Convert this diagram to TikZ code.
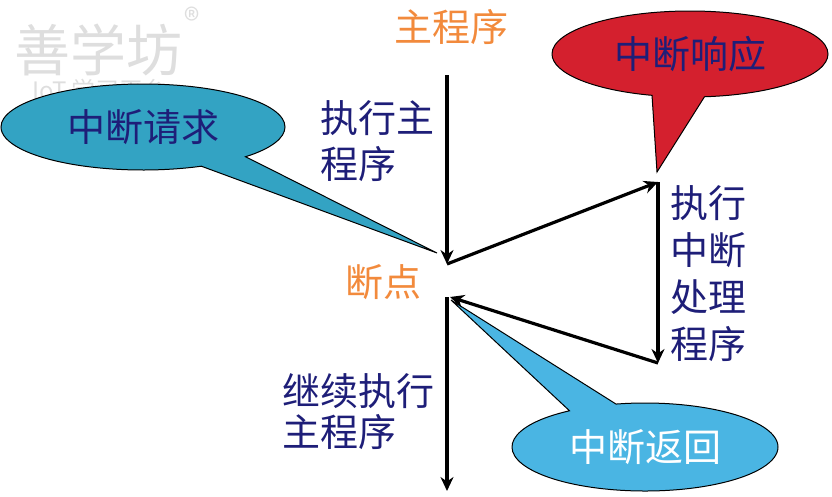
\documentclass[tikz,border=0pt]{standalone}
\usepackage{fontspec}
\newfontfamily\cjk{Noto Sans CJK SC}
\usetikzlibrary{shapes.geometric,shapes.callouts,arrows.meta,positioning}

\definecolor{navytext}{HTML}{1E1E78}
\definecolor{orangetext}{HTML}{F28A3C}
\definecolor{reqblue}{HTML}{33A3C3}
\definecolor{retblue}{HTML}{4AB5E3}
\definecolor{ackred}{HTML}{D4202E}
\definecolor{markgray}{HTML}{DEDEDE}

\begin{document}
\begin{tikzpicture}[x=1pt,y=-1pt,
  every node/.style={font=\cjk\fontsize{38}{46}\selectfont, inner sep=0pt},
  title/.style={text=orangetext},
  body/.style={text=navytext, align=left, anchor=north west},
  bubble/.style={ellipse callout, draw=black, line width=1pt, callout pointer arc=22},
  flow/.style={line width=3.2pt, -{Stealth[length=14pt,width=13pt]}}
]
\useasboundingbox (0,0) rectangle (832,496);

% watermark
\node[text=markgray, font=\cjk\fontsize{56}{60}\selectfont] (mark) at (98,50) {善学坊};
\node[text=markgray, font=\cjk\fontsize{32}{34}\selectfont] (markr) at (192,20) {®};
\node[text=markgray, font=\cjk\fontsize{24}{26}\selectfont] (marksub) at (100,90) {IoT 学习平台};

% tips of the bubbles
\coordinate (reqtip) at (437,253);
\coordinate (acktip) at (657,172);
\coordinate (rettip) at (451,300);

% bubbles
\node[bubble, fill=reqblue, text=navytext, minimum width=284, minimum height=86,
  callout absolute pointer=(reqtip)] (req) at (143,127) {中断请求};
\node[bubble, fill=ackred, text=navytext, minimum width=276, minimum height=86,
  callout absolute pointer=(acktip)] (ack) at (690,54) {中断响应};
\node[bubble, fill=retblue, text=white, minimum width=266, minimum height=88,
  callout absolute pointer=(rettip)] (back) at (645,447) {中断返回};

% flow of control
\coordinate (top) at (447,75);
\coordinate (brk) at (447,264);
\coordinate (isrtop) at (658,182);
\coordinate (isrend) at (658,363);
\coordinate (ret) at (450,297);
\coordinate (bottom) at (447,491);

\draw[flow] (top) -- (brk);
\draw[flow] (brk) -- (isrtop);
\draw[flow] (isrtop) -- (isrend);
\draw[flow] (isrend) -- (ret);
\draw[flow] (bottom |- ret) -- (bottom);

% labels
\node[title] (main) at (451,27) {主程序};
\node[title] (bp) at (383,282) {断点};
\node[body] (run) at (320,100) {执行主\\程序};
\node[body, font=\cjk\fontsize{38}{47}\selectfont] (isr) at (670,185) {执行\\中断\\处理\\程序};
\node[body, font=\cjk\fontsize{38}{41}\selectfont] (cont) at (282,373) {继续执行\\主程序};
\end{tikzpicture}
\end{document}
